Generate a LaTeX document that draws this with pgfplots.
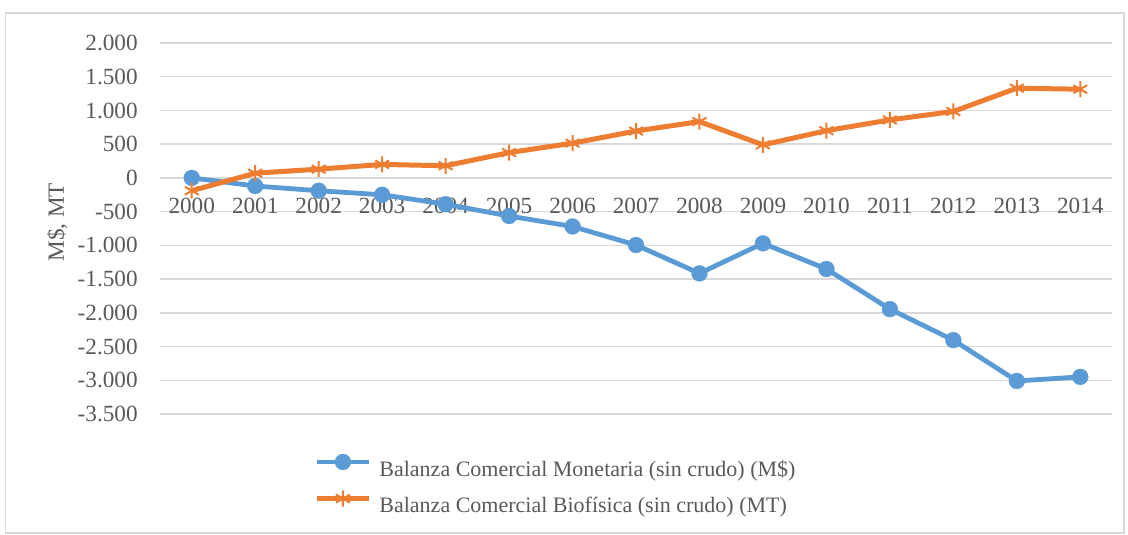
\documentclass[border=0pt]{standalone}
\usepackage{pgfplots}
\pgfplotsset{compat=1.18}
\usepackage{fontspec}
\setmainfont{Liberation Serif}
\definecolor{myblue}{HTML}{5B9BD5}
\definecolor{myorange}{HTML}{ED7D31}
\definecolor{txt}{HTML}{595959}
\definecolor{gridc}{HTML}{D9D9D9}
\begin{document}
\begin{tikzpicture}[x=1bp,y=1bp]
\useasboundingbox (0,0) rectangle (564,267);
\draw[gridc, line width=0.75bp] (2.75,0.5) rectangle (562,260.5);
\begin{axis}[
  at={(80bp,60bp)}, anchor=south west,
  scale only axis, width=476bp, height=185.5bp,
  xmin=-0.5, xmax=14.5, ymin=-3500, ymax=2000,
  axis x line=middle, axis y line=left,
  axis line style={draw=none},
  major tick length=0pt,
  xtick={0,1,2,3,4,5,6,7,8,9,10,11,12,13,14},
  xticklabels={2000,2001,2002,2003,2004,2005,2006,2007,2008,2009,2010,2011,2012,2013,2014},
  ytick={-3500,-3000,-2500,-2000,-1500,-1000,-500,0,500,1000,1500,2000},
  yticklabels={-3.500,-3.000,-2.500,-2.000,-1.500,-1.000,-500,0,500,1.000,1.500,2.000},
  ymajorgrids, grid style={gridc, line width=0.7bp},
  tick label style={font=\fontsize{11.6bp}{13.8bp}\selectfont, text=txt},
  xticklabel style={anchor=base, inner sep=0pt, yshift=-18bp},
  yticklabel style={anchor=east, inner sep=0pt, xshift=-11bp},
  ylabel={M\$, MT},
  every axis y label/.style={at={(axis description cs:-0.108,0.517)}, anchor=center, rotate=90, font=\fontsize{11.6bp}{13.8bp}\selectfont, text=txt},
  clip=false,
  legend cell align=left,
  legend style={draw=none, fill=none, at={(axis description cs:0.1555,-0.096)}, anchor=north west,
    font=\fontsize{11bp}{13.2bp}\selectfont, text=txt,
    nodes={inner sep=0pt, text height=8.5bp, text depth=2.5bp},
    row sep=4.8bp,
    /tikz/every odd column/.append style={column sep=4bp}},
  legend image code/.code={\draw[mark repeat=2,mark phase=2] plot coordinates {(0bp,4bp) (13bp,4bp) (26bp,4bp)};},
]
\addplot[myblue, line width=2.4bp, mark=*, mark size=4bp, mark options={solid, fill=myblue, draw=myblue, line width=0.1bp}] coordinates {
(0,0) (1,-120) (2,-190) (3,-250) (4,-390) (5,-565) (6,-720) (7,-995) (8,-1415) (9,-970) (10,-1350) (11,-1945) (12,-2405) (13,-3010) (14,-2950)};
\addlegendentry{Balanza Comercial Monetaria (sin crudo) (M\$)}
\addplot[myorange, line width=2.5bp, mark=asterisk, mark size=4bp, mark options={solid, line width=1bp}] coordinates {
(0,-190) (1,70) (2,130) (3,200) (4,180) (5,375) (6,515) (7,695) (8,835) (9,490) (10,700) (11,860) (12,985) (13,1330) (14,1315)};
\addlegendentry{Balanza Comercial Biofísica (sin crudo) (MT)}
\end{axis}
\end{tikzpicture}
\end{document}
